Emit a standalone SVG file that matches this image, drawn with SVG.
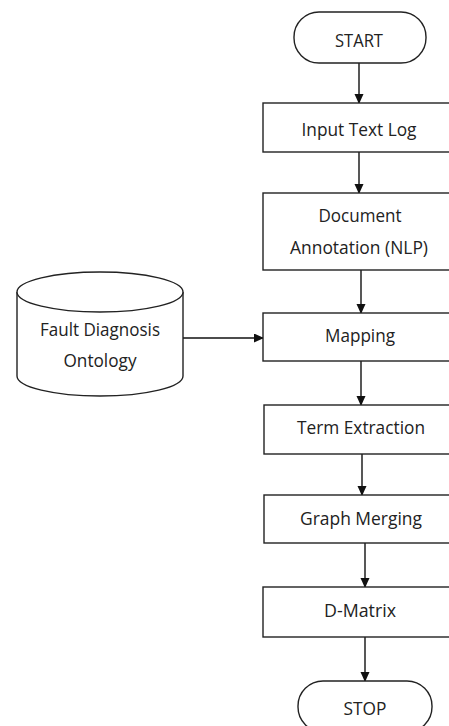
<svg xmlns="http://www.w3.org/2000/svg" width="449" height="726" viewBox="0 0 449 726">
<style>
.n{fill:#fff;stroke:#222;stroke-width:1.4}
.t{font-family:"Open Sans","Liberation Sans",sans-serif;font-size:18px;fill:#222;text-anchor:middle}
.c{stroke:#111;stroke-width:1.4;fill:none;marker-end:url(#ah)}
</style>
<defs>
<marker id="ah" markerWidth="10" markerHeight="10" refX="9" refY="4.5" orient="auto" markerUnits="userSpaceOnUse">
<path d="M0,0 L10,4.5 L0,9 Z" fill="#111"/>
</marker>
</defs>
<rect width="449" height="726" fill="#fff"/>
<g id="connectors">
<line class="c" x1="359" y1="63" x2="359" y2="103"/>
<line class="c" x1="359" y1="152" x2="359" y2="193"/>
<line class="c" x1="361" y1="270" x2="361" y2="313"/>
<line class="c" x1="183" y1="338" x2="263" y2="338"/>
<line class="c" x1="361" y1="361" x2="361" y2="405"/>
<line class="c" x1="362" y1="454" x2="362" y2="495"/>
<line class="c" x1="365" y1="543" x2="365" y2="587"/>
<line class="c" x1="365" y1="637" x2="365" y2="681"/>
</g>
<g id="start">
<rect class="n" x="294" y="12" width="132" height="51" rx="25" ry="25"/>
<text class="t" x="359" y="47" textLength="48" lengthAdjust="spacingAndGlyphs">START</text>
</g>
<g id="input">
<rect class="n" x="263" y="103" width="192" height="49"/>
<text class="t" x="359" y="136" textLength="115" lengthAdjust="spacingAndGlyphs">Input Text Log</text>
</g>
<g id="annotation">
<rect class="n" x="263" y="193" width="192" height="77"/>
<text class="t" x="360" y="222" textLength="83" lengthAdjust="spacingAndGlyphs">Document</text>
<text class="t" x="359" y="254" textLength="138" lengthAdjust="spacingAndGlyphs">Annotation (NLP)</text>
</g>
<g id="ontology">
<path class="n" d="M17,292 A83,20 0 0 1 183,292 L183,376 A83,20 0 0 1 17,376 Z"/>
<path class="n" d="M17,292 A83,20 0 0 0 183,292" fill="none"/>
<text class="t" x="100" y="336" textLength="120" lengthAdjust="spacingAndGlyphs">Fault Diagnosis</text>
<text class="t" x="100" y="367" textLength="73" lengthAdjust="spacingAndGlyphs">Ontology</text>
</g>
<g id="mapping">
<rect class="n" x="263" y="313" width="192" height="48"/>
<text class="t" x="360" y="342" textLength="70" lengthAdjust="spacingAndGlyphs">Mapping</text>
</g>
<g id="term">
<rect class="n" x="264" y="405" width="192" height="49"/>
<text class="t" x="361" y="434" textLength="128" lengthAdjust="spacingAndGlyphs">Term Extraction</text>
</g>
<g id="graph">
<rect class="n" x="264" y="495" width="192" height="48"/>
<text class="t" x="361" y="525" textLength="122" lengthAdjust="spacingAndGlyphs">Graph Merging</text>
</g>
<g id="dmatrix">
<rect class="n" x="263" y="587" width="192" height="50"/>
<text class="t" x="360" y="617" textLength="72" lengthAdjust="spacingAndGlyphs">D-Matrix</text>
</g>
<g id="stop">
<rect class="n" x="298" y="681" width="134" height="51" rx="25" ry="25"/>
<text class="t" x="365" y="715" textLength="43" lengthAdjust="spacingAndGlyphs">STOP</text>
</g>
</svg>
